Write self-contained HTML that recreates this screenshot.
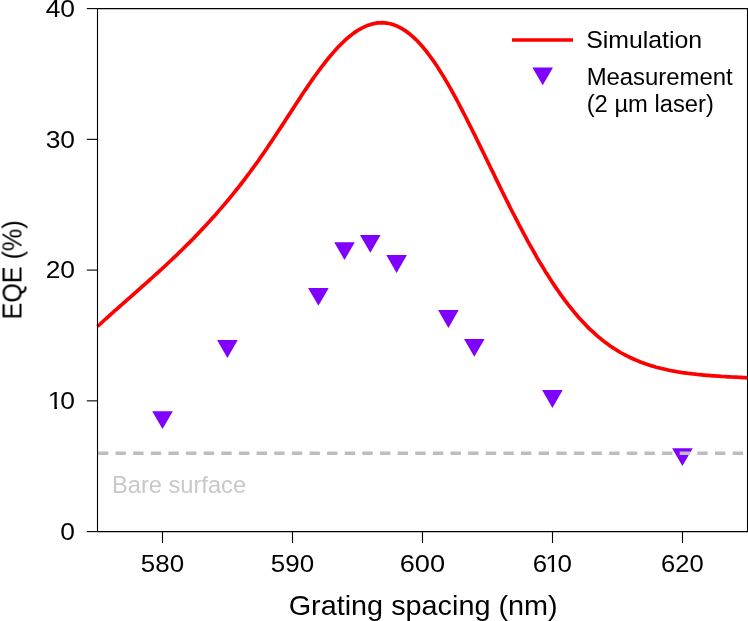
<!DOCTYPE html>
<html><head><meta charset="utf-8"><title>EQE vs grating spacing</title>
<style>
html,body{margin:0;padding:0;background:#fff;}
body{width:748px;height:621px;overflow:hidden;}
svg{display:block;font-family:"Liberation Sans",sans-serif;will-change:transform;}
.t{filter:grayscale(1);}
</style></head><body>
<svg width="748" height="621" viewBox="0 0 748 621">
<rect width="748" height="621" fill="#fff"/>
<defs>
<clipPath id="c10"><path clip-rule="evenodd" d="M-3,-24 H40 V6 H-3 Z M-0.6,-2.7 H5.76 V1.2 H-0.6 Z M8.22,-2.7 H12.4 V1.2 H8.22 Z"/></clipPath>
<clipPath id="c610"><path clip-rule="evenodd" d="M-3,-24 H50 V6 H-3 Z M12.5,-2.7 H17.1 V1.2 H12.5 Z M19.55,-2.7 H23.7 V1.2 H19.55 Z"/></clipPath>
</defs>
<g fill="#7f00ff"><polygon points="152.20,411.20 172.80,411.20 162.50,429.00"/><polygon points="217.10,340.10 237.70,340.10 227.40,357.90"/><polygon points="308.10,288.00 328.70,288.00 318.40,305.80"/><polygon points="334.20,242.20 354.80,242.20 344.50,260.00"/><polygon points="360.00,235.00 380.60,235.00 370.30,252.80"/><polygon points="386.30,255.10 406.90,255.10 396.60,272.90"/><polygon points="438.10,310.10 458.70,310.10 448.40,327.90"/><polygon points="464.00,339.00 484.60,339.00 474.30,356.80"/><polygon points="542.10,390.10 562.70,390.10 552.40,407.90"/><polygon points="672.10,448.20 692.70,448.20 682.40,466.00"/></g>
<line x1="97.9" y1="453.2" x2="747" y2="453.2" stroke="#bdbdbd" stroke-width="3.5" stroke-dasharray="10.4 7.23"/>
<path d="M97.5,326.5 L99.7,324.5 L101.8,322.5 L104.0,320.5 L106.2,318.5 L108.4,316.6 L110.5,314.6 L112.7,312.7 L114.9,310.7 L117.1,308.8 L119.2,306.9 L121.4,305.0 L123.6,303.0 L125.8,301.1 L127.9,299.2 L130.1,297.3 L132.3,295.4 L134.5,293.4 L136.6,291.5 L138.8,289.6 L141.0,287.7 L143.2,285.7 L145.3,283.8 L147.5,281.9 L149.7,279.9 L151.8,278.0 L154.0,276.0 L156.2,274.0 L158.4,272.1 L160.5,270.1 L162.7,268.1 L164.9,266.1 L167.1,264.0 L169.2,262.0 L171.4,260.0 L173.6,257.9 L175.8,255.8 L177.9,253.8 L180.1,251.6 L182.3,249.5 L184.5,247.4 L186.6,245.2 L188.8,243.1 L191.0,240.9 L193.2,238.7 L195.3,236.4 L197.5,234.2 L199.7,231.9 L201.8,229.6 L204.0,227.3 L206.2,225.0 L208.4,222.6 L210.5,220.2 L212.7,217.8 L214.9,215.4 L217.1,212.9 L219.2,210.4 L221.4,207.9 L223.6,205.4 L225.8,202.8 L227.9,200.2 L230.1,197.6 L232.3,194.9 L234.5,192.2 L236.6,189.5 L238.8,186.8 L241.0,184.0 L243.2,181.2 L245.3,178.3 L247.5,175.4 L249.7,172.5 L251.8,169.6 L254.0,166.6 L256.2,163.6 L258.4,160.6 L260.5,157.5 L262.7,154.4 L264.9,151.2 L267.1,148.0 L269.2,144.8 L271.4,141.6 L273.6,138.3 L275.8,135.0 L277.9,131.7 L280.1,128.4 L282.3,125.1 L284.5,121.8 L286.6,118.4 L288.8,115.1 L291.0,111.7 L293.2,108.4 L295.3,105.0 L297.5,101.7 L299.7,98.4 L301.8,95.1 L304.0,91.8 L306.2,88.6 L308.4,85.4 L310.5,82.2 L312.7,79.1 L314.9,76.0 L317.1,73.0 L319.2,70.1 L321.4,67.1 L323.6,64.3 L325.8,61.5 L327.9,58.8 L330.1,56.2 L332.3,53.6 L334.5,51.1 L336.6,48.7 L338.8,46.4 L341.0,44.2 L343.2,42.1 L345.3,40.0 L347.5,38.1 L349.7,36.3 L351.8,34.6 L354.0,32.9 L356.2,31.4 L358.4,30.0 L360.5,28.8 L362.7,27.6 L364.9,26.6 L367.1,25.6 L369.2,24.9 L371.4,24.2 L373.6,23.6 L375.8,23.2 L377.9,22.9 L380.1,22.8 L382.3,22.7 L384.5,22.8 L386.6,23.1 L388.8,23.5 L391.0,24.0 L393.2,24.6 L395.3,25.4 L397.5,26.3 L399.7,27.4 L401.8,28.6 L404.0,29.9 L406.2,31.4 L408.4,33.0 L410.5,34.7 L412.7,36.6 L414.9,38.6 L417.1,40.8 L419.2,43.0 L421.4,45.4 L423.6,48.0 L425.8,50.6 L427.9,53.4 L430.1,56.3 L432.3,59.3 L434.5,62.4 L436.6,65.6 L438.8,69.0 L441.0,72.4 L443.2,75.9 L445.3,79.6 L447.5,83.3 L449.7,87.1 L451.8,90.9 L454.0,94.9 L456.2,98.9 L458.4,103.0 L460.5,107.1 L462.7,111.3 L464.9,115.5 L467.1,119.8 L469.2,124.1 L471.4,128.5 L473.6,132.8 L475.8,137.2 L477.9,141.7 L480.1,146.1 L482.3,150.6 L484.5,155.0 L486.6,159.5 L488.8,164.0 L491.0,168.5 L493.2,172.9 L495.3,177.4 L497.5,181.9 L499.7,186.3 L501.8,190.7 L504.0,195.1 L506.2,199.5 L508.4,203.9 L510.5,208.2 L512.7,212.5 L514.9,216.7 L517.1,220.9 L519.2,225.1 L521.4,229.2 L523.6,233.3 L525.8,237.4 L527.9,241.4 L530.1,245.3 L532.3,249.2 L534.5,253.0 L536.6,256.8 L538.8,260.6 L541.0,264.2 L543.2,267.8 L545.3,271.4 L547.5,274.8 L549.7,278.3 L551.8,281.6 L554.0,284.9 L556.2,288.1 L558.4,291.3 L560.5,294.4 L562.7,297.4 L564.9,300.3 L567.1,303.2 L569.2,306.0 L571.4,308.7 L573.6,311.4 L575.8,314.0 L577.9,316.5 L580.1,319.0 L582.3,321.3 L584.5,323.6 L586.6,325.9 L588.8,328.1 L591.0,330.2 L593.2,332.2 L595.3,334.2 L597.5,336.1 L599.7,337.9 L601.8,339.7 L604.0,341.4 L606.2,343.0 L608.4,344.6 L610.5,346.2 L612.7,347.6 L614.9,349.0 L617.1,350.4 L619.2,351.7 L621.4,353.0 L623.6,354.2 L625.8,355.3 L627.9,356.4 L630.1,357.5 L632.3,358.5 L634.5,359.5 L636.6,360.4 L638.8,361.3 L641.0,362.2 L643.2,363.0 L645.3,363.8 L647.5,364.5 L649.7,365.2 L651.8,365.9 L654.0,366.5 L656.2,367.2 L658.4,367.7 L660.5,368.3 L662.7,368.8 L664.9,369.3 L667.1,369.8 L669.2,370.3 L671.4,370.7 L673.6,371.1 L675.8,371.5 L677.9,371.9 L680.1,372.2 L682.3,372.6 L684.5,372.9 L686.6,373.2 L688.8,373.5 L691.0,373.7 L693.2,374.0 L695.3,374.2 L697.5,374.5 L699.7,374.7 L701.8,374.9 L704.0,375.1 L706.2,375.3 L708.4,375.4 L710.5,375.6 L712.7,375.8 L714.9,375.9 L717.1,376.1 L719.2,376.2 L721.4,376.4 L723.6,376.5 L725.8,376.6 L727.9,376.8 L730.1,376.9 L732.3,377.0 L734.5,377.1 L736.6,377.2 L738.8,377.3 L741.0,377.4 L743.2,377.6 L745.3,377.7 L747.5,377.8" fill="none" stroke="#ff0000" stroke-width="3.7" stroke-linejoin="round"/>
<g stroke="#000" stroke-width="1.1" fill="none"><path d="M97.5,8.6 H748 M97.5,531.6 H748 M97.5,8.6 V531.6 M747.5,8.6 V531.6"/><path d="M86.8,531.60 H97.5"/><path d="M86.8,400.85 H97.5"/><path d="M86.8,270.10 H97.5"/><path d="M86.8,139.35 H97.5"/><path d="M86.8,8.60 H97.5"/><path d="M162.50,531.6 V543.0"/><path d="M292.50,531.6 V543.0"/><path d="M422.50,531.6 V543.0"/><path d="M552.50,531.6 V543.0"/><path d="M682.50,531.6 V543.0"/></g>
<line x1="512" y1="39.9" x2="573" y2="39.9" stroke="#ff0000" stroke-width="3.5"/>
<g fill="#7f00ff"><polygon points="532.40,67.50 553.00,67.50 542.70,85.30"/></g>
<g class="t"><text transform="translate(60.32,539.90) scale(1.1200,1)" font-size="23.6px" fill="#000">0</text><text transform="translate(45.65,278.40) scale(1.1200,1)" font-size="23.6px" fill="#000">20</text><text transform="translate(45.65,147.65) scale(1.1200,1)" font-size="23.6px" fill="#000">30</text><text transform="translate(45.65,16.90) scale(1.1200,1)" font-size="23.6px" fill="#000">40</text><text clip-path="url(#c10)" transform="translate(47.81,409.15) scale(1.12,1)" font-size="23.6px" fill="#000">1<tspan dx="-1.95">0</tspan></text><text transform="translate(140.86,571.80) scale(1.0980,1)" font-size="23.6px" fill="#000">580</text><text transform="translate(270.86,571.80) scale(1.0980,1)" font-size="23.6px" fill="#000">590</text><text transform="translate(399.64,571.80) scale(1.1530,1)" font-size="23.6px" fill="#000">600</text><text transform="translate(661.03,571.80) scale(1.0830,1)" font-size="23.6px" fill="#000">620</text><text clip-path="url(#c610)" transform="translate(532.75,571.8) scale(1.098,1)" font-size="23.6px" fill="#000">6<tspan dx="-1.79">1</tspan><tspan dx="-1.97">0</tspan></text>
<text transform="translate(288.66,614.80) scale(1.0443,1)" font-size="27.6px" fill="#000">Grating spacing (nm)</text>
<text transform="translate(21.5,319.37) rotate(-90) scale(0.9163,1)" font-size="27.4px" fill="#000">EQE (%)</text>
<text transform="translate(586.18,48.00) scale(1.0569,1)" font-size="23.5px" fill="#000">Simulation</text><text transform="translate(586.63,84.80) scale(1.0175,1)" font-size="23.5px" fill="#000">Measurement</text><text transform="translate(586.72,112.10) scale(1.0105,1)" font-size="23.5px" fill="#000">(2 µm laser)</text>
<text transform="translate(111.95,493.00) scale(1.0159,1)" font-size="23.3px" fill="#c8c8c8">Bare surface</text>
</g>
</svg></body></html>
